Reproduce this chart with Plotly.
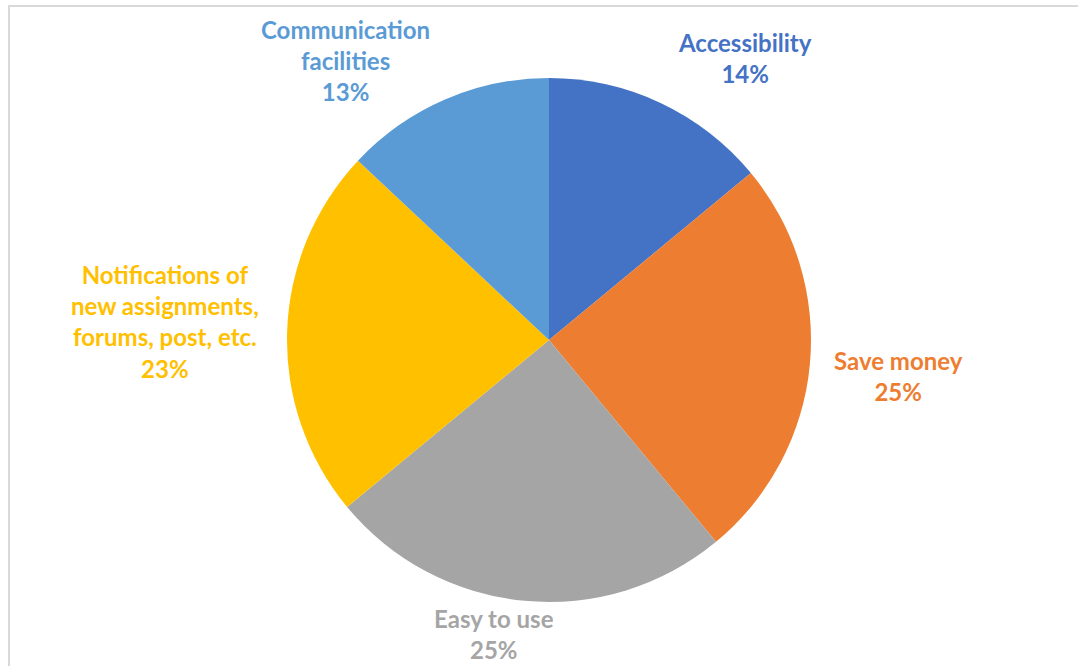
import plotly.graph_objects as go

# Survey shares per benefit category (percent)
categories = [
    "Accessibility",
    "Save money",
    "Easy to use",
    "Notifications of<br>new assignments,<br>forums, post, etc.",
    "Communication<br>facilities",
]
shares = [14, 25, 25, 23, 13]
colors = ["#4472C4", "#ED7D31", "#A5A5A5", "#FFC000", "#5B9BD5"]

# Label anchor points in pixels (x, y) for the 1078x666 canvas
W, H = 1078, 666
label_px = [(745, 58), (898, 376), (494, 634), (165, 321), (345, 61)]

fig = go.Figure(
    go.Pie(
        labels=categories,
        values=shares,
        marker=dict(colors=colors, line=dict(color="white", width=0)),
        sort=False,
        direction="clockwise",
        rotation=0,
        textinfo="none",
        hoverinfo="label+percent",
        showlegend=False,
        domain=dict(x=[(549 - 262) / W, (549 + 262) / W],
                    y=[1 - 602 / H, 1 - 78 / H]),
    )
)

total = sum(shares)
for cat, val, col, (px, py) in zip(categories, shares, colors, label_px):
    fig.add_annotation(
        x=px / W, y=1 - py / H, xref="paper", yref="paper",
        text=f"{cat}<br>{round(100 * val / total)}%",
        showarrow=False, align="center",
        xanchor="center", yanchor="middle",
        font=dict(family="Lato", size=24, color=col, weight="bold"),
    )

# Light chart-area frame
fig.add_shape(type="rect", xref="paper", yref="paper",
              x0=9 / W, x1=1.02, y0=-0.02, y1=1 - 6 / H,
              line=dict(color="#D9D9D9", width=2), fillcolor="rgba(0,0,0,0)")

fig.update_layout(
    width=W, height=H,
    margin=dict(l=0, r=0, t=0, b=0),
    paper_bgcolor="white",
    plot_bgcolor="white",
)

fig.write_html("out.html")
